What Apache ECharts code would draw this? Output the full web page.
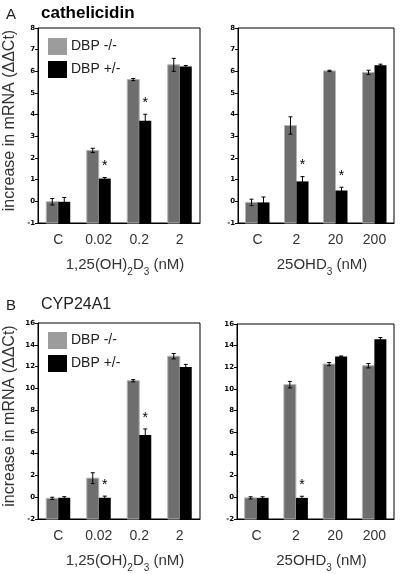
<!DOCTYPE html>
<html><head><meta charset="utf-8">
<script src="https://cdn.jsdelivr.net/npm/echarts@6/dist/echarts.min.js"></script>
<style>html,body{margin:0;padding:0;background:#fff}#c{width:400px;height:574px}</style>
</head><body><div id="c"></div>
<script>
// Categories
const catsLeft = ['C', '0.02', '0.2', '2'];
const catsRight = ['C', '2', '20', '200'];
const seriesNames = ['DBP -/-', 'DBP +/-'];

// Panel A: cathelicidin, left (1,25(OH)2D3)
const A1_ko = [-0.02, 2.35, 5.62, 6.3];
const A1_koErr = [0.15, 0.1, 0.05, 0.3];
const A1_het = [-0.02, 1.05, 3.72, 6.22];
const A1_hetErr = [0.2, 0.05, 0.3, 0.05];
const A1_sig = [0, 1, 1, 0];
// Panel A: right (25OHD3)
const A2_ko = [-0.05, 3.5, 6.02, 5.95];
const A2_koErr = [0.15, 0.4, 0.03, 0.1];
const A2_het = [-0.05, 0.92, 0.5, 6.28];
const A2_hetErr = [0.25, 0.22, 0.15, 0.05];
const A2_sig = [0, 1, 1, 0];
// Panel B: CYP24A1, left
const B1_ko = [-0.1, 1.75, 10.7, 12.95];
const B1_koErr = [0.1, 0.5, 0.1, 0.25];
const B1_het = [-0.05, -0.05, 5.72, 11.95];
const B1_hetErr = [0.1, 0.15, 0.55, 0.25];
const B1_sig = [0, 1, 1, 0];
// Panel B: right
const B2_ko = [-0.05, 10.4, 12.3, 12.15];
const B2_koErr = [0.1, 0.3, 0.15, 0.2];
const B2_het = [-0.05, -0.05, 13.0, 14.6];
const B2_hetErr = [0.1, 0.15, 0.05, 0.15];
const B2_sig = [0, 1, 0, 0];

// Axis ranges
const yRangeA = [-1, 8, 1];
const yRangeB = [-2, 16, 2];

const GRAY = '#6e6e6e', GRAY_LEG = '#9c9c9c', BLACK = '#000';
const BW = 12;

const grids = [
  {left: 38, top: 28, width: 162, height: 195},
  {left: 238, top: 28, width: 156, height: 195},
  {left: 38, top: 323, width: 162, height: 198},
  {left: 237, top: 324, width: 157, height: 197}
].map(g => Object.assign({show: true, borderColor: '#000', borderWidth: 1, backgroundColor: 'transparent'}, g));

const nameRich = {
  n: {fontSize: 15, fontFamily: 'Liberation Sans', color: '#333', lineHeight: 20, verticalAlign: 'bottom'},
  s: {fontSize: 10, fontFamily: 'Liberation Sans', color: '#333', lineHeight: 14, verticalAlign: 'bottom', padding: [0, 0, -5, 0]}
};
function xAx(idx, cats, name) {
  return {
    type: 'category', gridIndex: idx, data: cats,
    axisTick: {show: false},
    axisLine: {onZero: false, lineStyle: {color: '#000', width: 1}},
    axisLabel: {fontSize: 14, color: '#333', fontFamily: 'Liberation Sans', margin: 10},
    name: name, nameLocation: 'middle', nameGap: 29,
    nameTextStyle: {rich: nameRich, padding: [0, 0, 0, 12]}
  };
}
function yAx(idx, r, showName) {
  return {
    type: 'value', gridIndex: idx, min: r[0], max: r[1], interval: r[2],
    splitLine: {show: false},
    axisLine: {show: true, lineStyle: {color: '#000', width: 1}},
    axisTick: {show: true, length: 3, lineStyle: {color: '#000'}},
    axisLabel: {fontSize: 7, fontWeight: 'bold', color: '#000', fontFamily: 'DejaVu Sans', margin: 3},
    name: showName ? 'increase in mRNA (ΔΔCt)' : '',
    nameLocation: 'middle', nameGap: 20, nameRotate: 90,
    nameTextStyle: {fontSize: 16, color: '#333', fontFamily: 'Liberation Sans', padding: [0, 0, 0, 10]}
  };
}

const series = [];
function barSeries(idx, name, vals, yMin, off, color, stroke) {
  return {
    name: name, type: 'custom', xAxisIndex: idx, yAxisIndex: idx, z: 5,
    itemStyle: {color: color},
    data: vals.map((v, i) => [i, v]),
    renderItem: function (params, api) {
      const i = api.value(0), v = api.value(1);
      const b = api.coord([i, yMin]), t = api.coord([i, v]);
      const x0 = b[0] + off - BW / 2;
      return {type: 'rect', shape: {x: x0, y: Math.min(t[1], b[1]), width: BW, height: Math.abs(b[1] - t[1])},
        style: {fill: color, stroke: stroke || null, lineWidth: stroke ? 1 : 0}};
    }
  };
}
function addPanel(idx, r, ko, koErr, het, hetErr, sig) {
  series.push(barSeries(idx, seriesNames[0], ko, r[0], -BW / 2, GRAY, '#b4b4b4'));
  series.push(barSeries(idx, seriesNames[1], het, r[0], BW / 2, BLACK, null));
  const mk = (vals, errs, sigs, off) => vals.map((v, i) => [i, v, errs[i], sigs ? sigs[i] : 0, off]);
  const errData = mk(ko, koErr, null, -BW / 2).concat(mk(het, hetErr, sig, BW / 2));
  series.push({
    type: 'custom', xAxisIndex: idx, yAxisIndex: idx, z: 10, silent: true,
    data: errData,
    renderItem: function (params, api) {
      const i = api.value(0), v = api.value(1), e = api.value(2), s = api.value(3), off = api.value(4);
      const t = api.coord([i, v + e]), b = api.coord([i, v - e]);
      const x = t[0] + off;
      const ch = [
        {type: 'line', shape: {x1: x, y1: t[1], x2: x, y2: b[1]}, style: {stroke: '#000', lineWidth: 1}},
        {type: 'line', shape: {x1: x - 2, y1: t[1], x2: x + 2, y2: t[1]}, style: {stroke: '#000', lineWidth: 1}},
        {type: 'line', shape: {x1: x - 2, y1: b[1], x2: x + 2, y2: b[1]}, style: {stroke: '#000', lineWidth: 1}}
      ];
      if (s) {
        ch.push({type: 'text', x: x, y: t[1] - 4, style: {text: '*', fill: '#000', fontSize: 14, fontFamily: 'Liberation Sans', align: 'center', verticalAlign: 'bottom'}});
      }
      return {type: 'group', children: ch};
    }
  });
}
addPanel(0, yRangeA, A1_ko, A1_koErr, A1_het, A1_hetErr, A1_sig);
addPanel(1, yRangeA, A2_ko, A2_koErr, A2_het, A2_hetErr, A2_sig);
addPanel(2, yRangeB, B1_ko, B1_koErr, B1_het, B1_hetErr, B1_sig);
addPanel(3, yRangeB, B2_ko, B2_koErr, B2_het, B2_hetErr, B2_sig);

const nameL = '{n|1,25(OH)}{s|2}{n|D}{s|3}{n| (nM)}';
const nameR = '{n|25OHD}{s|3}{n| (nM)}';

function legend(top) {
  return {
    left: 43, top: top, orient: 'vertical', icon: 'rect', itemWidth: 19, itemHeight: 17, itemGap: 6,
    textStyle: {fontSize: 14, color: '#222', fontFamily: 'Liberation Sans', padding: [0, 0, 0, -1]},
    data: [{name: seriesNames[0], itemStyle: {color: GRAY_LEG, borderWidth: 0}}, {name: seriesNames[1], itemStyle: {color: BLACK, borderWidth: 0}}]
  };
}

const chart = echarts.init(document.getElementById('c'), null, {renderer: 'canvas'});
chart.setOption({
  animation: false,
  backgroundColor: '#fff',
  title: [
    {text: 'A', left: 1, top: 2, textStyle: {fontSize: 15, fontWeight: 'normal', color: '#222', fontFamily: 'Liberation Sans'}},
    {text: 'cathelicidin', left: 36, top: 0, textStyle: {fontSize: 17, fontWeight: 'bold', color: '#000', fontFamily: 'Liberation Sans'}},
    {text: 'B', left: 1, top: 293, textStyle: {fontSize: 15, fontWeight: 'normal', color: '#222', fontFamily: 'Liberation Sans'}},
    {text: 'CYP24A1', left: 36, top: 292, textStyle: {fontSize: 16, fontWeight: 'normal', color: '#222', fontFamily: 'Liberation Sans'}}
  ],
  legend: [legend(33), legend(327)],
  grid: grids,
  xAxis: [xAx(0, catsLeft, nameL), xAx(1, catsRight, nameR), xAx(2, catsLeft, nameL), xAx(3, catsRight, nameR)],
  yAxis: [yAx(0, yRangeA, true), yAx(1, yRangeA, false), yAx(2, yRangeB, true), yAx(3, yRangeB, false)],
  series: series
});
</script></body></html>
